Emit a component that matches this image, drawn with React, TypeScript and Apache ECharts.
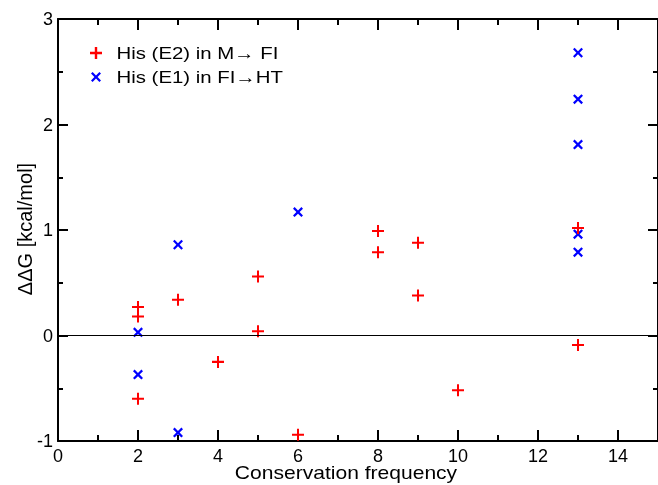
import React, { useEffect, useRef } from "react";
import * as echarts from "echarts";

const redName = "His (E2) in M\u2192 FI";
const blueName = "His (E1) in FI\u2192HT";
const redX = [2, 2, 2, 3, 4, 5, 5, 6, 8, 8, 9, 9, 10, 13, 13];
const redY = [0.27, 0.18, -0.6, 0.34, -0.25, 0.56, 0.04, -0.94, 0.99, 0.79, 0.88, 0.38, -0.52, 1.02, -0.09];
const blueX = [2, 2, 3, 3, 6, 13, 13, 13, 13, 13];
const blueY = [0.03, -0.37, 0.86, -0.92, 1.17, 2.68, 2.24, 1.81, 0.96, 0.79];
const xTitle = "Conservation frequency";
const yTitle = "\u0394\u0394G [kcal/mol]";

const FONT = "'Liberation Sans', Arial, sans-serif";
const PLUS = "path://M5,0H7V5H12V7H7V12H5V7H0V5H5Z";
const CROSS = "path://M0,1.6L1.6,0L5,3.4L8.4,0L10,1.6L6.6,5L10,8.4L8.4,10L5,6.6L1.6,10L0,8.4L3.4,5Z";

function plusPoints(cx: number, cy: number) {
  const h = 6, t = 1.2;
  return [
    [cx - t, cy - h], [cx + t, cy - h], [cx + t, cy - t], [cx + h, cy - t], [cx + h, cy + t],
    [cx + t, cy + t], [cx + t, cy + h], [cx - t, cy + h], [cx - t, cy + t], [cx - h, cy + t],
    [cx - h, cy - t], [cx - t, cy - t],
  ];
}
function crossPoints(cx: number, cy: number) {
  const raw = [[0, 1.6], [1.6, 0], [5, 3.4], [8.4, 0], [10, 1.6], [6.6, 5], [10, 8.4], [8.4, 10], [5, 6.6], [1.6, 10], [0, 8.4], [3.4, 5]];
  return raw.map(([x, y]) => [cx + x - 5, cy + y - 5]);
}

export default function App() {
  const ref = useRef<HTMLDivElement>(null);
  useEffect(() => {
    if (!ref.current) return;
    const chart = echarts.init(ref.current, null, { renderer: "svg" });
    const axisLine = { show: true, onZero: false, lineStyle: { color: "#000", width: 2 } };
    const xBase = (pos: string, labels: boolean) => ({
      type: "value",
      min: 0,
      max: 15,
      interval: 2,
      position: pos,
      axisLine,
      axisTick: { show: true, inside: true, length: 11, lineStyle: { color: "#000", width: 2 } },
      minorTick: { show: true, splitNumber: 2, length: 6, lineStyle: { color: "#000", width: 2 } },
      splitLine: { show: false },
      axisLabel: {
        show: labels,
        fontSize: 18,
        color: "#000",
        margin: 6,
        fontFamily: FONT,
        showMaxLabel: false,
      },
    });
    const yBase = (pos: string, labels: boolean) => ({
      type: "value",
      min: -1,
      max: 3,
      interval: 1,
      position: pos,
      axisLine,
      axisTick: { show: true, inside: true, length: 10, lineStyle: { color: "#000", width: 2 } },
      minorTick: { show: true, splitNumber: 2, length: 5, lineStyle: { color: "#000", width: 2 } },
      splitLine: { show: false },
      axisLabel: { show: labels, fontSize: 18, color: "#000", margin: 5, fontFamily: FONT },
    });
    chart.setOption({
      animation: false,
      grid: { left: 58, top: 19, width: 602, height: 422 },
      xAxis: [xBase("bottom", true), xBase("top", false)],
      yAxis: [yBase("left", true), yBase("right", false)],
      graphic: [
        { type: "polygon", shape: { points: plusPoints(96, 53) }, style: { fill: "#ff0000" } },
        { type: "polygon", shape: { points: crossPoints(96, 77) }, style: { fill: "#0000ff" } },
        {
          type: "text",
          x: 116.5,
          y: 53,
          scaleX: 1.2,
          style: { text: redName, font: `17px ${FONT}`, fill: "#000", textAlign: "left", textVerticalAlign: "middle" },
        },
        {
          type: "text",
          x: 116.5,
          y: 77,
          scaleX: 1.2,
          style: { text: blueName, font: `17px ${FONT}`, fill: "#000", textAlign: "left", textVerticalAlign: "middle" },
        },
        {
          type: "text",
          x: 346,
          y: 473,
          scaleX: 1.17,
          style: {
            text: xTitle,
            font: `18px ${FONT}`,
            fill: "#000",
            textAlign: "center",
            textVerticalAlign: "middle",
          },
        },
        {
          type: "text",
          x: 25,
          y: 229,
          rotation: Math.PI / 2,
          style: {
            text: yTitle,
            font: `20px ${FONT}`,
            fill: "#000",
            textAlign: "center",
            textVerticalAlign: "middle",
          },
        },
      ],
      series: [
        {
          name: blueName,
          type: "scatter",
          z: 2,
          symbol: CROSS,
          symbolSize: 10,
          itemStyle: { color: "#0000ff", opacity: 1 },
          data: blueX.map((x, i) => [x, blueY[i]]),
          markLine: {
            silent: true,
            symbol: "none",
            label: { show: false },
            lineStyle: { color: "#000", width: 1, type: "solid" },
            data: [{ yAxis: 0 }],
          },
        },
        {
          name: redName,
          type: "scatter",
          z: 3,
          symbol: PLUS,
          symbolSize: 12,
          itemStyle: { color: "#ff0000", opacity: 1 },
          data: redX.map((x, i) => [x, redY[i]]),
        },
      ],
    });
    return () => chart.dispose();
  }, []);
  return <div ref={ref} style={{ position: "fixed", left: 0, top: 0, width: 658, height: 485 }} />;
}
